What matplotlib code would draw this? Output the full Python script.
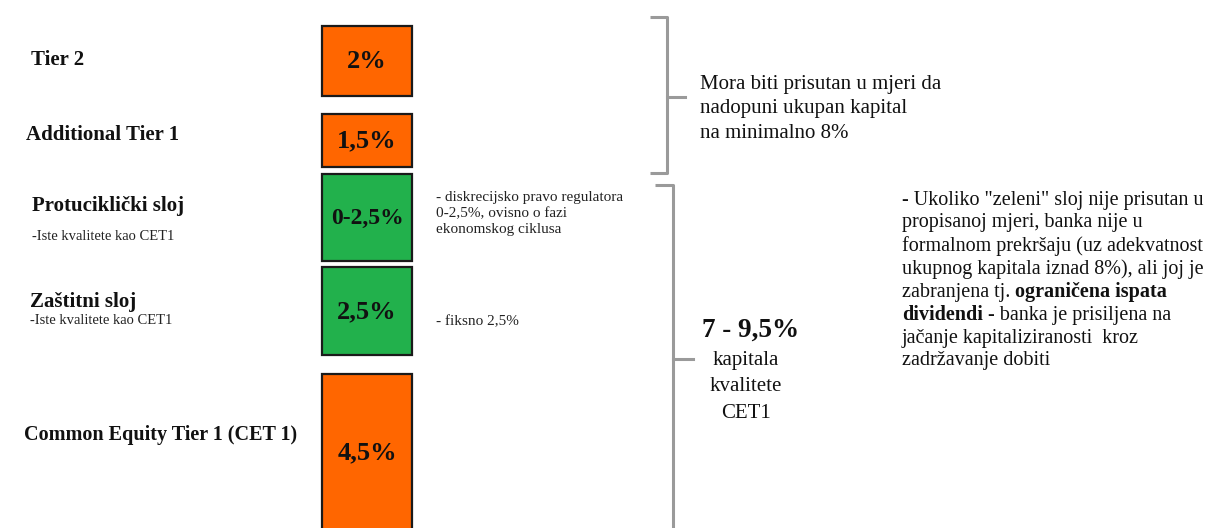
import matplotlib
matplotlib.use("Agg")
import matplotlib.pyplot as plt
import numpy as np

# capital layers, top to bottom
layer_names = ["Tier 2", "Additional Tier 1", "Protuciklički sloj", "Zaštitni sloj",
               "Common Equity Tier 1 (CET 1)"]
layer_notes = ["", "", "-Iste kvalitete kao CET1", "-Iste kvalitete kao CET1", ""]
layer_values = [2.0, 1.5, 2.5, 2.5, 4.5]
layer_labels = ["2%", "1,5%", "0-2,5%", "2,5%", "4,5%"]
is_buffer = [False, False, True, True, False]

buffer_notes = [["- diskrecijsko pravo regulatora", "0-2,5%, ovisno o fazi", "ekonomskog ciklusa"],
                ["- fiksno 2,5%"]]
upper_note = ["Mora biti prisutan u mjeri da", "nadopuni ukupan kapital", "na minimalno 8%"]
cet1_total = "7 - 9,5%"
cet1_sub = ["kapitala", "kvalitete", "CET1"]
# (text, bold) runs per line
right_note = [
    [("- Ukoliko \"zeleni\" sloj nije prisutan u", False)],
    [("propisanoj mjeri, banka nije u", False)],
    [("formalnom prekršaju (uz adekvatnost", False)],
    [("ukupnog kapitala iznad 8%), ali joj je", False)],
    [("zabranjena tj. ", False), ("ograničena ispata", True)],
    [("dividendi", True), (" - banka je prisiljena na", False)],
    [("jačanje kapitaliziranosti  kroz", False)],
    [("zadržavanje dobiti", False)],
]

# layout (pixels)
PX_PER_PCT = 35
gaps = [26, 18, 7, 6, 19]
BOX_X, BOX_W = 367, 90
label_x = [31, 26, 32, 30, 24]
label_dy = [-1, -5, -11, -9, -17]
note_dy = [0, 0, 19, 10, 0]
ORANGE = "#FF6600"
GREEN = "#22B14C"
GREY = "#9a9a9a"
SERIF = "Liberation Serif"

fig = plt.figure(figsize=(12.05, 5.28), dpi=100)
ax = fig.add_axes([0, 0, 1, 1])
ax.set_xlim(0, 1205)
ax.set_ylim(528, 0)
ax.axis("off")

heights = np.array(layer_values) * PX_PER_PCT
tops = []
pos = 0
for g, h in zip(gaps, heights):
    pos += g
    tops.append(pos)
    pos += h
tops = np.array(tops)
centers = tops + heights / 2

colors = [GREEN if b else ORANGE for b in is_buffer]
ax.bar(BOX_X, heights, bottom=tops, width=BOX_W, color=colors,
       edgecolor="#1a1a1a", linewidth=1.6, zorder=2)

for i, c in enumerate(centers):
    fs = 17 if "-" in layer_labels[i] else 19
    ax.text(BOX_X, c + 1, layer_labels[i], ha="center", va="center", fontsize=fs,
            fontweight="bold", family=SERIF, color="#111111", zorder=3)
    ax.text(label_x[i], c + label_dy[i], layer_names[i], ha="left", va="center",
            fontsize=15 if i < 4 else 14.5, fontweight="bold", family=SERIF, color="#111111")
    if layer_notes[i]:
        ax.text(label_x[i], c + note_dy[i], layer_notes[i], ha="left", va="center",
                fontsize=10.5, family=SERIF, color="#222222")

# notes next to the green buffers
for lines, y0 in zip(buffer_notes, [198, 322]):
    for k, line in enumerate(lines):
        ax.text(436, y0 + k * 16, line, ha="left", va="center", fontsize=11,
                family=SERIF, color="#222222")

# brackets
ax.plot([650, 667, 667, 650], [17, 17, 173, 173], color=GREY, lw=2.2, solid_capstyle="butt")
ax.plot([667, 685], [97, 97], color=GREY, lw=2.2)
ax.plot([655, 673, 673], [185, 185, 540], color=GREY, lw=2.2, solid_capstyle="butt")
ax.plot([673, 693], [359, 359], color=GREY, lw=2.2)

for k, line in enumerate(upper_note):
    ax.text(700, 85 + k * 24, line, ha="left", va="center", fontsize=15,
            family=SERIF, color="#111111")

ax.text(702, 330, cet1_total, ha="left", va="center", fontsize=19.5,
        fontweight="bold", family=SERIF, color="#111111")
for k, line in enumerate(cet1_sub):
    ax.text(746, 360 + k * 26.5, line, ha="center", va="center", fontsize=15,
            family=SERIF, color="#111111")

for k, runs in enumerate(right_note):
    y = 200 + k * 23
    prev = None
    for text, bold in runs:
        kw = dict(fontsize=14.5, family=SERIF, color="#111111",
                  fontweight="bold" if bold else "normal")
        if prev is None:
            prev = ax.text(902, y, text, ha="left", va="center", **kw)
        else:
            prev = ax.annotate(text, xy=(1, 0), xycoords=prev, ha="left", va="bottom", **kw)

fig.savefig("out.png", dpi=100)
